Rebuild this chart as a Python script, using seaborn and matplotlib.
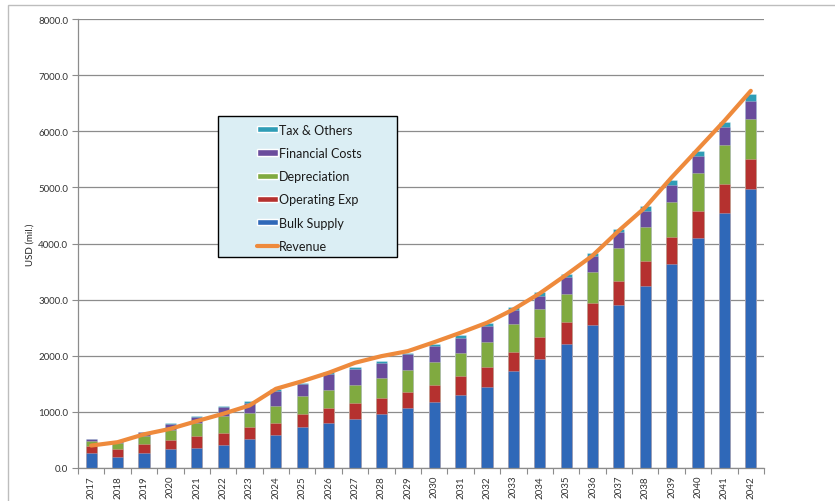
import numpy as np
import pandas as pd
import matplotlib
matplotlib.use("Agg")
import matplotlib.pyplot as plt
from matplotlib.patches import Patch, Rectangle
from matplotlib.lines import Line2D
from matplotlib.ticker import FormatStrFormatter, FixedLocator
import seaborn as sns

# Annual cost build-up and revenue, USD million
years = [str(y) for y in range(2017, 2043)]
bulk_supply = [271, 200, 271, 330, 365, 413, 508, 585, 727, 793, 865, 966, 1061,
               1180, 1298, 1440, 1720, 1950, 2212, 2539, 2906, 3250, 3636, 4093,
               4543, 4970]
operating_exp = [118, 147, 160, 166, 202, 207, 226, 221, 244, 268, 285, 285, 297,
                 303, 338, 357, 344, 389, 386, 403, 433, 445, 474, 492, 516, 534]
depreciation = [89, 102, 148, 178, 226, 303, 250, 296, 309, 326, 326, 357, 385,
                403, 417, 453, 494, 486, 504, 546, 576, 593, 623, 664, 694, 712]
financial_costs = [30, 29, 59, 114, 113, 167, 178, 267, 208, 285, 280, 267, 280,
                   285, 268, 278, 255, 237, 297, 284, 284, 297, 309, 303, 315, 326]
tax_others = [10, 8, 8, 10, 12, 14, 30, 30, 30, 36, 40, 30, 30, 40, 41, 48, 55,
              80, 59, 60, 60, 77, 94, 89, 89, 119]
revenue = [400, 460, 600, 698, 835, 966, 1114, 1411, 1547, 1697, 1875, 1993, 2082,
           2242, 2410, 2588, 2825, 3111, 3440, 3784, 4230, 4644, 5178, 5682, 6186,
           6720]

series_names = ["Bulk Supply", "Operating Exp", "Depreciation", "Financial Costs",
                "Tax & Others"]
series_values = [bulk_supply, operating_exp, depreciation, financial_costs, tax_others]
series_colors = ["#2F68B8", "#B5312F", "#80AA40", "#6A4C9C", "#2F9DB6"]
revenue_color = "#EE8A3C"

df = pd.DataFrame({"Year": years})
running = np.zeros(len(years))
for name, vals in zip(series_names, series_values):
    running = running + np.array(vals, dtype=float)
    df[name] = running

sns.set_style("white")
plt.rcParams["font.family"] = ["Lato", "DejaVu Sans"]

fig = plt.figure(figsize=(8.35, 5.02), dpi=100)
ax = fig.add_axes([78 / 835, 1 - 469 / 502, 686 / 835, 449 / 502])

# stacked bars: draw cumulative totals from the top segment down
for name, col in reversed(list(zip(series_names, series_colors))):
    sns.barplot(data=df, x="Year", y=name, order=years, color=col, saturation=1,
                width=0.42, errorbar=None, ax=ax, zorder=2,
                edgecolor=(1, 1, 1, 0.35), linewidth=0.5)

sns.lineplot(x=np.arange(len(years)), y=revenue, color=revenue_color, lw=3,
             ax=ax, zorder=4)

ax.set_xlim(-0.5, len(years) - 0.5)
ax.set_ylim(0, 8000)
ax.set_yticks(np.arange(0, 8001, 1000))
ax.yaxis.set_major_formatter(FormatStrFormatter("%.1f"))
ax.set_xticks(np.arange(len(years)))
ax.set_xticklabels(years, rotation=90)
ax.xaxis.set_minor_locator(FixedLocator(np.arange(-0.5, len(years), 1)))
ax.tick_params(axis="x", which="major", length=0, pad=5, labelsize=7,
               labelcolor="#333333")
ax.tick_params(axis="x", which="minor", length=4, color="#8c8c8c", width=0.8,
               direction="out", bottom=True)
ax.tick_params(axis="y", length=4, color="#8c8c8c", width=0.8, direction="out",
               left=True, labelsize=7, labelcolor="#333333", pad=3)
ax.set_xlabel("")
ax.set_ylabel("USD (mil.)", fontsize=7, color="#222222", labelpad=3)

ax.yaxis.grid(True, color="#8c8c8c", lw=0.9)
ax.set_axisbelow(True)
for side in ["top", "right"]:
    ax.spines[side].set_visible(False)
for side in ["left", "bottom"]:
    ax.spines[side].set_color("#8c8c8c")
    ax.spines[side].set_linewidth(0.9)

# legend panel
ax.add_patch(Rectangle((0.204, 0.470), 0.261, 0.314, transform=ax.transAxes,
                       facecolor="#DBEEF4", edgecolor="black", lw=1, zorder=5))
handles = [Patch(facecolor=c, label=n) for n, c in
           reversed(list(zip(series_names, series_colors)))]
handles.append(Line2D([0], [0], color=revenue_color, lw=3, label="Revenue"))
leg = ax.legend(handles=handles, loc="upper left", bbox_to_anchor=(0.253, 0.778),
                frameon=False, fontsize=9, handlelength=1.7, handleheight=0.4,
                handletextpad=0.12, labelspacing=0.9, borderaxespad=0)
leg.set_zorder(6)
for t in leg.get_texts():
    t.set_color("#1a1a1a")

# outer chart frame
fig.add_artist(Rectangle((8 / 835, -0.05), 1.1, 1 - 6 / 502 + 0.05,
                         transform=fig.transFigure, fill=False,
                         edgecolor="#bdbdbd", lw=1))

fig.savefig("out.png", dpi=100)
